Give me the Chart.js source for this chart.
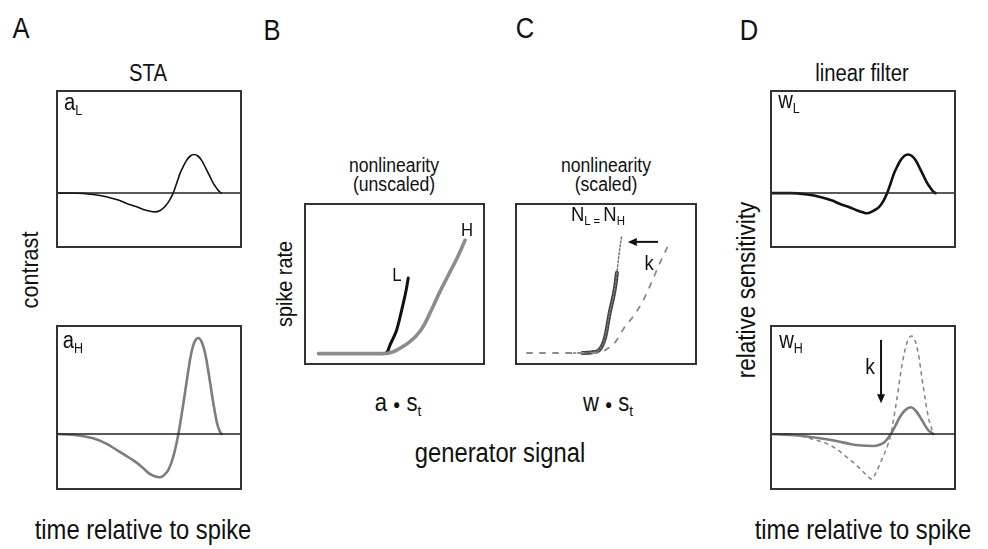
<!DOCTYPE html>
<html>
<head>
<meta charset="utf-8">
<script src="https://cdn.jsdelivr.net/npm/chart.js@4.4.1/dist/chart.umd.min.js"></script>
<style>
body{margin:0;background:#fff;}
#fig{position:relative;width:988px;height:549px;font-family:"Liberation Sans",Arial,sans-serif;color:#111;overflow:hidden;}
#fig canvas{position:absolute;}
.t{position:absolute;white-space:nowrap;transform:translate(-50%,-50%) scaleX(0.88);line-height:1;}
.v{transform:translate(-50%,-50%) rotate(-90deg) scaleX(0.9);}
sub{font-size:0.62em;vertical-align:-0.3em;}
</style>
</head>
<body>
<div id="fig">
  <canvas id="cAL" width="186" height="158" style="left:56px;top:90px"></canvas>
  <canvas id="cAH" width="186" height="165" style="left:56px;top:325px"></canvas>
  <canvas id="cB" width="181" height="162" style="left:304px;top:203px"></canvas>
  <canvas id="cC" width="182" height="162" style="left:515px;top:203px"></canvas>
  <canvas id="cWL" width="186" height="158" style="left:770px;top:90px"></canvas>
  <canvas id="cWH" width="186" height="165" style="left:770px;top:325px"></canvas>

  <div class="t" style="left:21px;top:28px;font-size:29px">A</div>
  <div class="t" style="left:272px;top:30px;font-size:29px">B</div>
  <div class="t" style="left:525px;top:28px;font-size:29px">C</div>
  <div class="t" style="left:749px;top:30px;font-size:29px">D</div>

  <div class="t" style="left:148px;top:73px;font-size:23px">STA</div>
  <div class="t" style="left:862px;top:73px;font-size:23px">linear filter</div>
  <div class="t v" style="left:30px;top:270px;font-size:24px">contrast</div>
  <div class="t v" style="left:746px;top:290px;font-size:25px">relative sensitivity</div>
  <div class="t v" style="left:285px;top:284px;font-size:22px">spike rate</div>

  <div class="t" style="left:394px;top:165px;font-size:20px">nonlinearity</div>
  <div class="t" style="left:394px;top:184px;font-size:20px">(unscaled)</div>
  <div class="t" style="left:606px;top:165px;font-size:20px">nonlinearity</div>
  <div class="t" style="left:606px;top:184px;font-size:20px">(scaled)</div>

  <div class="t" style="left:398px;top:404px;font-size:25px">a <span style="font-size:0.55em;vertical-align:0.15em">●</span> s<sub>t</sub></div>
  <div class="t" style="left:608px;top:404px;font-size:25px">w <span style="font-size:0.55em;vertical-align:0.15em">●</span> s<sub>t</sub></div>
  <div class="t" style="left:500px;top:453px;font-size:27px">generator signal</div>
  <div class="t" style="left:143px;top:530px;font-size:27px">time relative to spike</div>
  <div class="t" style="left:863px;top:530px;font-size:27px">time relative to spike</div>

  <div class="t" style="left:73px;top:104px;font-size:23px">a<sub>L</sub></div>
  <div class="t" style="left:73px;top:342px;font-size:23px">a<sub>H</sub></div>
  <div class="t" style="left:789px;top:102px;font-size:23px">w<sub>L</sub></div>
  <div class="t" style="left:791px;top:342px;font-size:23px">w<sub>H</sub></div>
  <div class="t" style="left:397px;top:274px;font-size:19px">L</div>
  <div class="t" style="left:467px;top:229px;font-size:19px">H</div>
  <div class="t" style="left:598px;top:215px;font-size:21px">N<sub>L = </sub>N<sub>H</sub></div>
  <div class="t" style="left:649px;top:262px;font-size:21px">k</div>
  <div class="t" style="left:870px;top:367px;font-size:22px">k</div>
</div>

<script>
// STA / filter time axis: 0 = left edge of box, 100 = right edge (spike)
const tAL = [0,11,20,27,33,38,43,47,50,53,56,58.6,61,63,65,66.7,68.5,70.2,72.2,74.2,76.3,78.3,80.5,82.8,84.6,86.4,88,89];
const aL  = [0,0,-0.015,-0.038,-0.07,-0.107,-0.14,-0.17,-0.185,-0.195,-0.18,-0.14,-0.075,0,0.11,0.205,0.28,0.34,0.385,0.40,0.385,0.34,0.26,0.17,0.10,0.05,0.012,0];

const tAH = [0,10,20,27,33,38,42,46,50,53,56,58,60.5,63,65.8,68.5,70.5,72.5,74.5,76.5,78.5,80.5,82.5,84.5,86.5,88,89];
const aH  = [0,-0.01,-0.045,-0.10,-0.17,-0.23,-0.28,-0.34,-0.41,-0.44,-0.45,-0.43,-0.37,-0.24,0,0.32,0.58,0.82,0.96,1.0,0.95,0.81,0.58,0.33,0.12,0.03,0];

const tWL = [0,11,20,27,33,38,43,47,50,52,55,58.6,61,63,65,66.7,68.5,70.2,72.2,74.2,76.3,78.3,80.5,82.8,84.6,86.4,88,89];
const wL  = [0,0,-0.015,-0.04,-0.075,-0.115,-0.15,-0.18,-0.20,-0.21,-0.19,-0.145,-0.08,0,0.11,0.205,0.28,0.34,0.385,0.40,0.385,0.34,0.26,0.17,0.10,0.05,0.012,0];

// wH before scaling (dotted) and after scaling by k (solid)
const tWHk = [0,10,17.7,24,30.5,36,41.2,45,48.4,52,54.7,57,60,63.6,65,68.1,70.8,73.5,76.2,78,79.7,82.4,85.1,87.8];
const wHk  = [0,-0.005,-0.028,-0.06,-0.10,-0.16,-0.24,-0.30,-0.36,-0.43,-0.47,-0.40,-0.27,-0.10,0,0.35,0.70,0.945,1.02,0.97,0.84,0.49,0.18,0];
const tWH = [0,15,30.5,37,43,49,55.5,58.5,61.8,65,67.5,69.9,72.5,75.6,78,80.6,83,85.1,87.8];
const wH  = [0,-0.015,-0.055,-0.078,-0.104,-0.12,-0.125,-0.115,-0.08,0,0.09,0.18,0.245,0.278,0.25,0.18,0.10,0.04,0];

// nonlinearities: generator signal (0-100) vs spike rate (0-100)
const gH_B = [8,20,30,40,46,50,54,58,62,66,70,75,80,85,89];
const rH_B = [7,7,7,7,7.3,8.5,11,14,18,24,33,45,56,67,77];
const gL_B = [44,46,47.5,49.5,51.2,52.5,54,56.4,57.6];
const rL_B = [7,8,12.3,17,21.6,27,34,46,53.7];

const gH_C = [6.6,20,30,40,45.6,50,55,60,65,70,75,80,85.2];
const rH_C = [7.4,7.4,7.4,7.4,7.6,9.5,14,23,30,39,51,64,76];
const gHk_C = [30,37,40,43,46,49.5,52,55,56,57,58.5];
const rHk_C = [7.4,7.4,7.5,8,9,17,32,48,57,67,79];
const gL_C = [37,40,43,46,49.5,52,55,56];
const rL_C = [7.4,7.5,8,9,17,32,48,57];

const pts = (xs, ys) => xs.map((x, i) => ({x: x, y: ys[i]}));
const zero = [{x:0,y:0},{x:100,y:0}];

// box frame + arrows drawn in data units
const framePlugin = {
  id: 'frame',
  afterDraw(chart) {
    const a = chart.chartArea, ctx = chart.ctx;
    ctx.save();
    ctx.strokeStyle = '#333';
    ctx.lineWidth = 2;
    ctx.strokeRect(a.left + 1, a.top + 1, a.width - 2, a.height - 2);
    ctx.restore();
  }
};
const arrowPlugin = {
  id: 'arrows',
  afterDatasetsDraw(chart, args, opts) {
    const list = opts.list || [];
    const ctx = chart.ctx, xs = chart.scales.x, ys = chart.scales.y;
    list.forEach(ar => {
      const x1 = xs.getPixelForValue(ar.from[0]), y1 = ys.getPixelForValue(ar.from[1]);
      const x2 = xs.getPixelForValue(ar.to[0]), y2 = ys.getPixelForValue(ar.to[1]);
      const ang = Math.atan2(y2 - y1, x2 - x1), h = 9;
      ctx.save();
      ctx.strokeStyle = '#111'; ctx.fillStyle = '#111'; ctx.lineWidth = 2;
      ctx.beginPath();
      ctx.moveTo(x1, y1);
      ctx.lineTo(x2 - Math.cos(ang) * h * 0.8, y2 - Math.sin(ang) * h * 0.8);
      ctx.stroke();
      ctx.beginPath();
      ctx.moveTo(x2, y2);
      ctx.lineTo(x2 - h * Math.cos(ang) + 4 * Math.sin(ang), y2 - h * Math.sin(ang) - 4 * Math.cos(ang));
      ctx.lineTo(x2 - h * Math.cos(ang) - 4 * Math.sin(ang), y2 - h * Math.sin(ang) + 4 * Math.cos(ang));
      ctx.closePath();
      ctx.fill();
      ctx.restore();
    });
  }
};
Chart.register(framePlugin, arrowPlugin);

function line(data, color, width, dash) {
  return {data: data, borderColor: color, borderWidth: width, borderDash: dash || [],
          pointRadius: 0, fill: false, cubicInterpolationMode: 'monotone', borderCapStyle: 'round'};
}

function panel(id, datasets, ymin, ymax, arrows) {
  return new Chart(document.getElementById(id), {
    type: 'line',
    data: {datasets: datasets},
    options: {
      responsive: false,
      animation: false,
      layout: {padding: 0},
      scales: {
        x: {type: 'linear', min: 0, max: 100, display: false},
        y: {type: 'linear', min: ymin, max: ymax, display: false}
      },
      plugins: {legend: {display: false}, tooltip: {enabled: false}, arrows: {list: arrows || []}}
    }
  });
}

panel('cAL', [line(zero, '#222', 1.5), line(pts(tAL, aL), '#111', 1.6)], -0.57, 1.07);
panel('cAH', [line(zero, '#222', 1.5), line(pts(tAH, aH), '#7d7d7d', 2.6)], -0.583, 1.135);
panel('cB', [line(pts(gH_B, rH_B), '#8c8c8c', 3.6), line(pts(gL_B, rL_B), '#111', 3)], 0, 100);
panel('cC', [
  line(pts(gH_C, rH_C), '#8a8a8a', 1.8, [5, 8]),
  line(pts(gHk_C, rHk_C), '#777', 1.5, [2, 2]),
  line(pts(gL_C, rL_C), '#444', 4)
], 0, 100, [{from: [78.6, 76], to: [62, 76]}]);
panel('cWL', [line(zero, '#222', 1.5), line(pts(tWL, wL), '#111', 2.6)], -0.57, 1.07);
panel('cWH', [
  line(zero, '#222', 1.5),
  line(pts(tWHk, wHk), '#888', 1.6, [3, 5]),
  line(pts(tWH, wH), '#7d7d7d', 2.6)
], -0.583, 1.135, [{from: [59.7, 0.98], to: [59.7, 0.32]}]);
</script>
</body>
</html>
